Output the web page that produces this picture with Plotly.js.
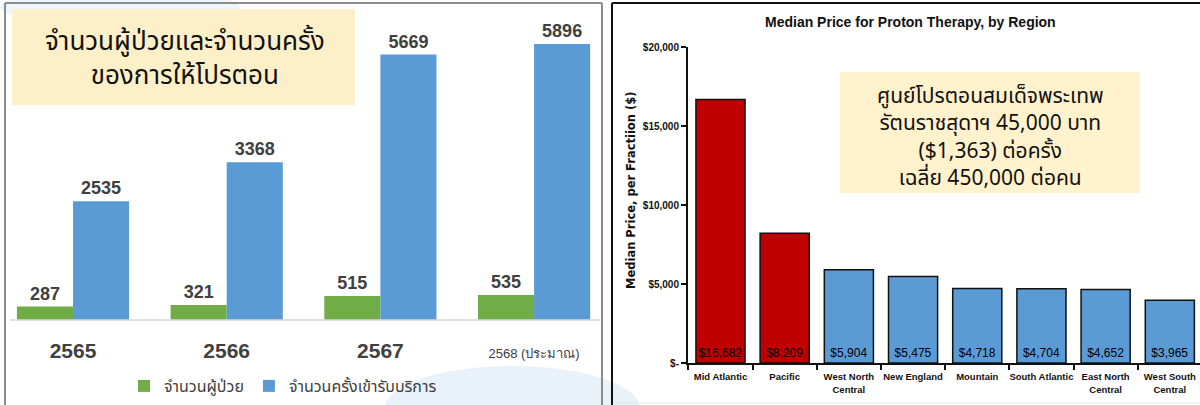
<!DOCTYPE html>
<html>
<head>
<meta charset="utf-8">
<script src="https://cdn.plot.ly/plotly-3.0.1.min.js"></script>
<style>html,body{margin:0;padding:0;background:#fff;}#chart{width:1200px;height:405px;}</style>
</head>
<body>
<div id="chart"></div>
<script>
// ---- Left chart data ----
const years = ["2565", "2566", "2567", "2568 (ประมาณ)"];
const patients = [287, 321, 515, 535];
const visits = [2535, 3368, 5669, 5896];
const seriesNames = ["จำนวนผู้ป่วย", "จำนวนครั้งเข้ารับบริการ"];
const leftTitle = "จำนวนผู้ป่วยและจำนวนครั้ง<br>ของการให้โปรตอน";

// ---- Right chart data ----
const regions = ["Mid Atlantic", "Pacific", "West North Central", "New England", "Mountain", "South Atlantic", "East North Central", "West South Central"];
const regionTickLabels = ["Mid Atlantic", "Pacific", "West North<br>Central", "New England", "Mountain", "South Atlantic", "East North<br>Central", "West South<br>Central"];
const prices = [16682, 8209, 5904, 5475, 4718, 4704, 4652, 3965];
const priceTickVals = [0, 5000, 10000, 15000, 20000];
const priceTickText = ["$-", "$5,000", "$10,000", "$15,000", "$20,000"];
const rightTitle = "Median Price for Proton Therapy, by Region";
const rightYTitle = "Median Price, per Fractiion ($)";
const noteText = "ศูนย์โปรตอนสมเด็จพระเทพ<br>รัตนราชสุดาฯ 45,000 บาท<br>($1,363) ต่อครั้ง<br>เฉลี่ย 450,000 ต่อคน";

const W = 1200, H = 405;
const px = x => x / W;
const py = y => 1 - y / H;
const NARROW = "Liberation Sans Narrow, Liberation Sans, Arial Narrow, sans-serif";
const THAI = "Tahoma, Noto Sans Thai, Loma, sans-serif";

const traces = [
  {
    type: "bar", x: years, y: patients, name: seriesNames[0],
    xaxis: "x", yaxis: "y",
    marker: {color: "#70AD47"},
    texttemplate: "%{y}", textposition: "outside", cliponaxis: false,
    textfont: {family: NARROW, size: 18, color: "#404040", weight: "bold"},
    hoverinfo: "skip"
  },
  {
    type: "bar", x: years, y: visits, name: seriesNames[1],
    xaxis: "x", yaxis: "y",
    marker: {color: "#5B9BD5"},
    texttemplate: "%{y}", textposition: "outside", cliponaxis: false,
    textfont: {family: NARROW, size: 18, color: "#404040", weight: "bold"},
    hoverinfo: "skip"
  },
  {
    type: "bar", x: regions, y: prices, showlegend: false,
    xaxis: "x2", yaxis: "y2", width: 0.765,
    marker: {color: prices.map((v, i) => i < 2 ? "#C00000" : "#5B9BD5"), line: {color: "#111", width: 1.5}},
    texttemplate: "$%{y:,}", textposition: "inside", insidetextanchor: "start", textangle: 0,
    constraintext: "none",
    textfont: {family: NARROW, size: 12, color: "#000000"},
    hoverinfo: "skip"
  }
];

const layout = {
  width: W, height: H,
  margin: {l: 0, r: 0, t: 0, b: 0},
  paper_bgcolor: "#ffffff", plot_bgcolor: "rgba(0,0,0,0)",
  barmode: "group", bargap: 0.27, bargroupgap: 0,
  showlegend: true,
  legend: {
    orientation: "h", x: px(283), xanchor: "center", y: py(386), yanchor: "middle",
    font: {family: THAI, size: 16, color: "#404040"}, bgcolor: "rgba(0,0,0,0)"
  },
  xaxis: {
    domain: [px(6), px(600)], anchor: "y", type: "category",
    range: [-0.436, 3.429], showline: false, showgrid: false, zeroline: false,
    ticks: "", ticklabelstandoff: 16,
    tickvals: years,
    ticktext: years.map((c, i) => i < 3 ? "<b>" + c + "</b>" : "<span style='font-size:13px;font-weight:normal'>" + c + "</span>"),
    tickfont: {family: NARROW, size: 21, color: "#404040"}
  },
  yaxis: {
    domain: [py(320), py(10)], anchor: "x", range: [0, 6622], visible: false, showgrid: false, zeroline: false
  },
  xaxis2: {
    domain: [px(688), 1], anchor: "y2", type: "category",
    range: [-0.506, 7.47], showline: true, linecolor: "#111", linewidth: 2,
    ticks: "outside", tickson: "boundaries", ticklen: 5, tickwidth: 2, tickcolor: "#111",
    tickangle: 0, automargin: false, ticklabelstandoff: 4,
    tickvals: regions, ticktext: regionTickLabels,
    tickfont: {family: NARROW, size: 9.5, color: "#111", weight: "bold"},
    showgrid: false, zeroline: false
  },
  yaxis2: {
    domain: [py(363), py(47)], anchor: "x2", range: [0, 20000],
    showline: true, linecolor: "#111", linewidth: 2,
    ticks: "outside", ticklen: 5, tickwidth: 2, tickcolor: "#111",
    tickvals: priceTickVals, ticktext: priceTickText, automargin: false,
    tickfont: {family: NARROW, size: 10, color: "#111", weight: "bold"},
    showgrid: false, zeroline: false
  },
  shapes: [
    // light blue watercolor hint
    {type: "circle", xref: "paper", yref: "paper", x0: px(385), x1: px(640), y0: py(450), y1: py(366),
     fillcolor: "#dbe8f5", opacity: 0.6, line: {width: 0}, layer: "below"},
    {type: "circle", xref: "paper", yref: "paper", x0: px(0), x1: px(240), y0: py(25), y1: py(-10),
     fillcolor: "#e3eef8", opacity: 0.6, line: {width: 0}, layer: "below"},
    // left title box
    {type: "rect", xref: "paper", yref: "paper", x0: px(12), x1: px(355), y0: py(105), y1: py(9),
     fillcolor: "#FDF0C8", line: {width: 0}, layer: "below"},
    // right note box
    {type: "rect", xref: "paper", yref: "paper", x0: px(840), x1: px(1140), y0: py(193), y1: py(72),
     fillcolor: "#FFF2CC", line: {width: 0}, layer: "below"},
    // left baseline
    {type: "line", xref: "paper", yref: "paper", x0: px(10), x1: px(600), y0: py(320), y1: py(320),
     line: {color: "#d9d9d9", width: 1.5}},
    // left panel border
    {type: "line", xref: "paper", yref: "paper", x0: px(5), x1: px(5), y0: py(405), y1: py(3), line: {color: "#8c8c8c", width: 2}},
    {type: "line", xref: "paper", yref: "paper", x0: px(5), x1: px(602), y0: py(3), y1: py(3), line: {color: "#8c8c8c", width: 2}},
    {type: "line", xref: "paper", yref: "paper", x0: px(602), x1: px(602), y0: py(405), y1: py(3), line: {color: "#8c8c8c", width: 2}},
    // right panel border
    {type: "line", xref: "paper", yref: "paper", x0: px(612), x1: px(612), y0: py(405), y1: py(3), line: {color: "#111", width: 2}},
    {type: "line", xref: "paper", yref: "paper", x0: px(612), x1: px(1200), y0: py(3), y1: py(3), line: {color: "#111", width: 2}},
    {type: "line", xref: "paper", yref: "paper", x0: px(613), x1: px(1200), y0: py(403), y1: py(403), line: {color: "#e4e4e4", width: 1}}
  ],
  annotations: [
    {xref: "paper", yref: "paper", x: px(185), y: py(59), xanchor: "center", yanchor: "middle",
     text: leftTitle, showarrow: false, font: {family: THAI, size: 26, color: "#111"}},
    {xref: "paper", yref: "paper", x: px(910), y: py(22), xanchor: "center", yanchor: "middle",
     text: "<b>" + rightTitle + "</b>", showarrow: false, font: {family: NARROW, size: 14, color: "#111"}},
    {xref: "paper", yref: "paper", x: px(631), y: py(191), xanchor: "center", yanchor: "middle", textangle: -90,
     text: "<b>" + rightYTitle + "</b>", showarrow: false, font: {family: "DejaVu Sans, Verdana, sans-serif", size: 11.5, color: "#111"}},
    {xref: "paper", yref: "paper", x: px(990), y: py(137), xanchor: "center", yanchor: "middle",
     text: noteText, showarrow: false, font: {family: THAI, size: 21, color: "#111"}}
  ]
};

Plotly.newPlot("chart", traces, layout, {staticPlot: true, displayModeBar: false});
</script>
</body>
</html>
